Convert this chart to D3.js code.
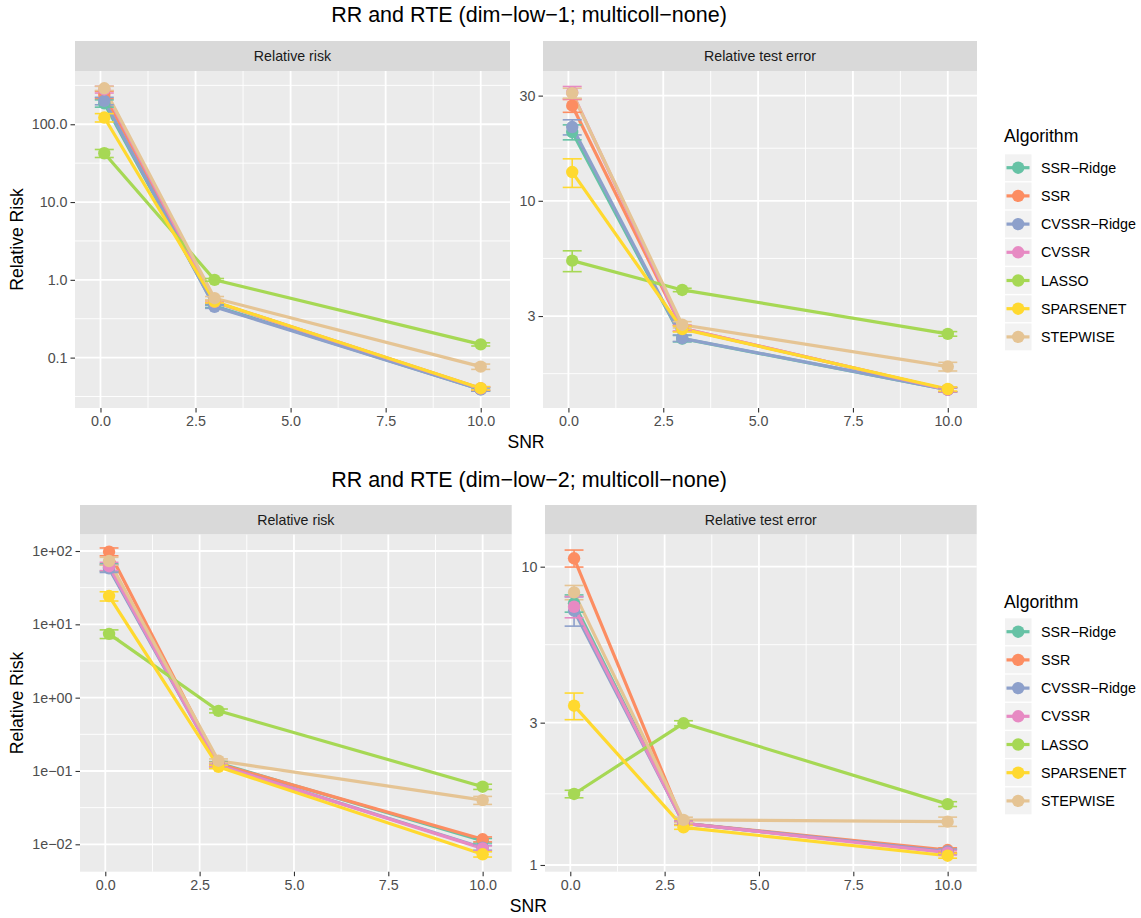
<!DOCTYPE html>
<html>
<head>
<meta charset="utf-8">
<script src="https://cdn.jsdelivr.net/npm/d3@7"></script>
<style>
  body { margin: 0; background: #fff; }
  svg text { font-family: "Liberation Sans", Arial, Helvetica, sans-serif; }
</style>
</head>
<body>
<div id="chart"></div>
<script>
// x values and groups
var snr = [0.1, 3, 10];
var algorithms = ["SSR\u2212Ridge", "SSR", "CVSSR\u2212Ridge", "CVSSR", "LASSO", "SPARSENET", "STEPWISE"];
var colors = ["#66C2A5", "#FC8D62", "#8DA0CB", "#E78AC3", "#A6D854", "#FFD92F", "#E5C494"];

// dim-low-1, relative risk (one row per algorithm, one value per snr)
var rrLow1 = [[186, 0.46, 0.039], [240, 0.52, 0.040], [200, 0.45, 0.039], [280, 0.52, 0.040],
              [42.4, 1.0, 0.148], [122, 0.525, 0.0404], [290, 0.58, 0.0766]];
var rrLow1Err = [[20, 0.02, 0.002], [25, 0.02, 0.002], [22, 0.02, 0.002], [28, 0.02, 0.002],
                 [5, 0.04, 0.007], [15, 0.02, 0.002], [18, 0.03, 0.006]];
// dim-low-1, relative test error
var rteLow1 = [[20.5, 2.37, 1.39], [27, 2.64, 1.39], [21.6, 2.38, 1.39], [31, 2.64, 1.39],
               [5.35, 3.94, 2.49], [13.5, 2.62, 1.40], [30.8, 2.74, 1.77]];
var rteLow1Err = [[1.6, 0.08, 0.03], [1.8, 0.08, 0.03], [1.7, 0.08, 0.03], [2.0, 0.08, 0.03],
                  [0.58, 0.07, 0.06], [2.0, 0.08, 0.03], [1.6, 0.09, 0.08]];
// dim-low-2, relative risk
var rrLow2 = [[60, 0.128, 0.0112], [98, 0.125, 0.0117], [58, 0.12, 0.0090], [62, 0.12, 0.0088],
              [7.4, 0.66, 0.061], [24.3, 0.114, 0.0073], [73, 0.138, 0.040]];
var rrLow2Err = [[7, 0.006, 0.0008], [12, 0.006, 0.0009], [7, 0.006, 0.0007], [8, 0.006, 0.0007],
                 [1, 0.04, 0.005], [3.5, 0.006, 0.0006], [9, 0.008, 0.005]];
// dim-low-2, relative test error
var rteLow2 = [[7.54, 1.38, 1.11], [10.67, 1.38, 1.122], [7.12, 1.38, 1.11], [7.34, 1.38, 1.10],
               [1.73, 2.985, 1.60], [3.42, 1.337, 1.074], [8.2, 1.416, 1.397]];
var rteLow2Err = [[0.5, 0.02, 0.02], [0.7, 0.02, 0.02], [0.8, 0.02, 0.02], [0.6, 0.02, 0.02],
                  [0.05, 0.06, 0.03], [0.35, 0.02, 0.02], [0.45, 0.03, 0.05]];

// y axis breaks and visible limits per panel
var rrTicks1 = [0.1, 1, 10, 100];
var rteTicks1 = [3, 10, 30];
var rrTicks2 = [0.01, 0.1, 1, 10, 100];
var rteTicks2 = [1, 3, 10];
var xTicks = [0, 2.5, 5, 7.5, 10];

var rows = [
  { title: "RR and RTE (dim\u2212low\u22121; multicoll\u2212none)", titleY: 22,
    stripTop: 41, top: 71, bottom: 408, legendTop: 136, keysTop: 154.3,
    panels: [
      { name: "Relative risk", x0: 75, x1: 510, vals: rrLow1, err: rrLow1Err, ticks: rrTicks1,
        lim: [0.0225, 484], fmt: d3.format(".1f") },
      { name: "Relative test error", x0: 543, x1: 977, vals: rteLow1, err: rteLow1Err, ticks: rteTicks1,
        lim: [1.148, 38.8], fmt: d3.format("d") }
    ] },
  { title: "RR and RTE (dim\u2212low\u22122; multicoll\u2212none)", titleY: 487,
    stripTop: 505, top: 534.3, bottom: 871.7, legendTop: 601.5, keysTop: 618.3,
    panels: [
      { name: "Relative risk", x0: 80, x1: 511.7, vals: rrLow2, err: rrLow2Err, ticks: rrTicks2,
        lim: [0.00423, 169], fmt: sciFmt },
      { name: "Relative test error", x0: 545, x1: 976.7, vals: rteLow2, err: rteLow2Err, ticks: rteTicks2,
        lim: [0.9495, 12.84], fmt: d3.format("d") }
    ] }
];

function sciFmt(v) {
  var e = Math.round(Math.log10(v));
  var s = e < 0 ? "\u2212" : "+";
  return "1e" + s + String(Math.abs(e)).padStart(2, "0");
}

var width = 1141, height = 918;
var errW = 0.25;
var xDom = [snr[0] - errW, snr[snr.length - 1] + errW];
var xPad = (xDom[1] - xDom[0]) * 0.05;
xDom = [xDom[0] - xPad, xDom[1] + xPad];

var svg = d3.select("#chart").append("svg")
  .attr("width", width)
  .attr("height", height);

svg.append("rect").attr("width", width).attr("height", height).attr("fill", "#fff");

function minorBreaks(majors, lim) {
  var b = majors.slice();
  var bd = b[1] - b[0];
  if (lim[0] < b[0]) b.unshift(b[0] - bd);
  if (lim[1] > b[b.length - 1]) b.push(b[b.length - 1] + bd);
  var out = [];
  for (var i = 0; i < b.length - 1; i++) {
    var m = (b[i] + b[i + 1]) / 2;
    if (m > lim[0] && m < lim[1]) out.push(m);
  }
  return out;
}

function drawPanel(row, p) {
  var g = svg.append("g");
  var x = d3.scaleLinear().domain(xDom).range([p.x0, p.x1]);
  var y = d3.scaleLog().domain(p.lim).range([row.bottom, row.top]);

  g.append("rect")
    .attr("x", p.x0).attr("y", row.top)
    .attr("width", p.x1 - p.x0).attr("height", row.bottom - row.top)
    .attr("fill", "#EBEBEB");

  // minor grid
  var xMinor = minorBreaks(xTicks, xDom);
  var logTicks = p.ticks.map(function(t) { return Math.log10(t); });
  var yMinor = minorBreaks(logTicks, p.lim.map(Math.log10));
  g.selectAll(".xminor").data(xMinor).enter().append("line")
    .attr("x1", d => x(d)).attr("x2", d => x(d))
    .attr("y1", row.top).attr("y2", row.bottom)
    .attr("stroke", "#fff").attr("stroke-width", 0.9);
  g.selectAll(".yminor").data(yMinor).enter().append("line")
    .attr("x1", p.x0).attr("x2", p.x1)
    .attr("y1", d => y(Math.pow(10, d))).attr("y2", d => y(Math.pow(10, d)))
    .attr("stroke", "#fff").attr("stroke-width", 0.9);
  // major grid
  g.selectAll(".xmajor").data(xTicks).enter().append("line")
    .attr("x1", d => x(d)).attr("x2", d => x(d))
    .attr("y1", row.top).attr("y2", row.bottom)
    .attr("stroke", "#fff").attr("stroke-width", 1.8);
  g.selectAll(".ymajor").data(p.ticks).enter().append("line")
    .attr("x1", p.x0).attr("x2", p.x1)
    .attr("y1", d => y(d)).attr("y2", d => y(d))
    .attr("stroke", "#fff").attr("stroke-width", 1.8);

  // strip
  g.append("rect")
    .attr("x", p.x0).attr("y", row.stripTop)
    .attr("width", p.x1 - p.x0).attr("height", row.top - row.stripTop)
    .attr("fill", "#D9D9D9");
  g.append("text")
    .attr("x", (p.x0 + p.x1) / 2).attr("y", (row.stripTop + row.top) / 2)
    .attr("dy", "0.35em").attr("text-anchor", "middle")
    .attr("font-size", "14.2px").attr("fill", "#1A1A1A")
    .text(p.name);

  // axes
  var xAxis = d3.axisBottom(x).tickValues(xTicks).tickFormat(d3.format(".1f"))
    .tickSize(4.5).tickPadding(3.5);
  var gx = g.append("g").attr("transform", `translate(0, ${row.bottom})`).call(xAxis);
  var yAxis = d3.axisLeft(y).tickValues(p.ticks).tickFormat(p.fmt)
    .tickSize(4.5).tickPadding(3);
  var gy = g.append("g").attr("transform", `translate(${p.x0}, 0)`).call(yAxis);
  [gx, gy].forEach(function(a) {
    a.select(".domain").remove();
    a.selectAll(".tick line").attr("stroke", "#333").attr("stroke-width", 1.1);
    a.selectAll(".tick text").attr("fill", "#4D4D4D").attr("font-size", "14.3px")
      .attr("font-family", "\"Liberation Sans\", Arial, sans-serif");
  });

  // series: lines, error bars, points
  var line = d3.line().x((d, i) => x(snr[i])).y(d => y(d));
  g.selectAll(".series").data(p.vals).enter().append("path")
    .attr("d", d => line(d))
    .attr("fill", "none")
    .attr("stroke", (d, k) => colors[k])
    .attr("stroke-width", 3.2);

  p.vals.forEach(function(vals, k) {
    vals.forEach(function(v, i) {
      var e = p.err[k][i];
      var lo = y(v - e), hi = y(v + e), cx = x(snr[i]);
      var eb = g.append("g").attr("stroke", colors[k]).attr("stroke-width", 1.6);
      eb.append("line").attr("x1", cx).attr("x2", cx).attr("y1", lo).attr("y2", hi);
      eb.append("line").attr("x1", x(snr[i] - errW)).attr("x2", x(snr[i] + errW)).attr("y1", lo).attr("y2", lo);
      eb.append("line").attr("x1", x(snr[i] - errW)).attr("x2", x(snr[i] + errW)).attr("y1", hi).attr("y2", hi);
    });
  });

  p.vals.forEach(function(vals, k) {
    g.selectAll(null).data(vals).enter().append("circle")
      .attr("cx", (d, i) => x(snr[i]))
      .attr("cy", d => y(d))
      .attr("r", 6.2)
      .attr("fill", colors[k]);
  });
}

rows.forEach(function(row) {
  svg.append("text")
    .attr("x", 529).attr("y", row.titleY)
    .attr("text-anchor", "middle")
    .attr("font-size", "21.5px").attr("fill", "#000")
    .text(row.title);

  row.panels.forEach(function(p) { drawPanel(row, p); });

  var left = row.panels[0].x0, right = row.panels[1].x1;
  svg.append("text")
    .attr("x", (left + right) / 2).attr("y", row.bottom + 40)
    .attr("text-anchor", "middle")
    .attr("font-size", "17.6px").attr("fill", "#000")
    .text("SNR");
  svg.append("text")
    .attr("transform", `translate(23, ${(row.top + row.bottom) / 2}) rotate(-90)`)
    .attr("text-anchor", "middle")
    .attr("font-size", "17.6px").attr("fill", "#000")
    .text("Relative Risk");

  // legend
  var lg = svg.append("g");
  lg.append("text")
    .attr("x", 1004).attr("y", row.legendTop).attr("dy", "0.35em")
    .attr("font-size", "17.6px").attr("fill", "#000")
    .text("Algorithm");
  var keyH = 28.2;
  algorithms.forEach(function(name, k) {
    var ky = row.keysTop + k * keyH;
    lg.append("rect")
      .attr("x", 1005).attr("y", ky)
      .attr("width", 26.5).attr("height", keyH - 1.4)
      .attr("fill", "#F2F2F2");
    var cy = ky + (keyH - 1.4) / 2;
    lg.append("line")
      .attr("x1", 1006.5).attr("x2", 1029.5).attr("y1", cy).attr("y2", cy)
      .attr("stroke", colors[k]).attr("stroke-width", 3.2);
    lg.append("circle")
      .attr("cx", 1018.2).attr("cy", cy).attr("r", 6.2)
      .attr("fill", colors[k]);
    lg.append("text")
      .attr("x", 1041).attr("y", cy).attr("dy", "0.35em")
      .attr("font-size", "14.3px").attr("fill", "#000")
      .text(name);
  });
});
</script>
</body>
</html>
